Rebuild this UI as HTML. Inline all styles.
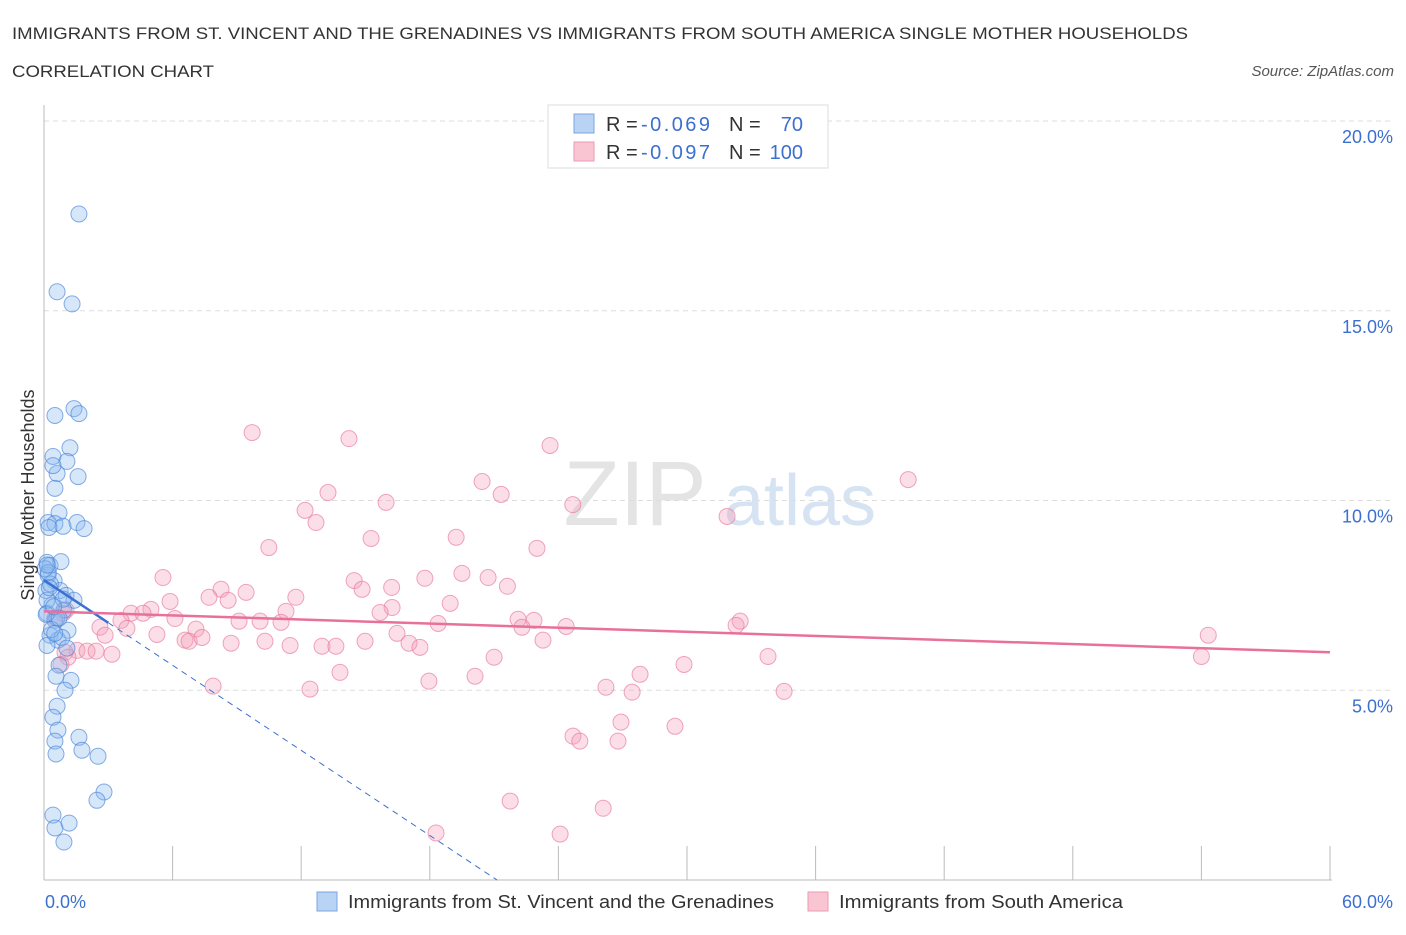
<!DOCTYPE html>
<html><head><meta charset="utf-8"><style>
body{margin:0;background:#fff;font-family:"Liberation Sans",sans-serif;}
svg text{font-family:"Liberation Sans",sans-serif;}
</style></head><body>
<svg id="chart" width="1406" height="930">
<text x="12" y="39" font-size="17" fill="#333" textLength="1176" lengthAdjust="spacingAndGlyphs">IMMIGRANTS FROM ST. VINCENT AND THE GRENADINES VS IMMIGRANTS FROM SOUTH AMERICA SINGLE MOTHER HOUSEHOLDS</text>
<text x="12" y="77" font-size="17" fill="#333" textLength="202" lengthAdjust="spacingAndGlyphs">CORRELATION CHART</text>
<text x="1394" y="76" font-size="15" fill="#555" font-style="italic" text-anchor="end">Source: ZipAtlas.com</text>
<text x="635" y="525" font-size="92" fill="#e4e4e4" font-family="Liberation Serif" text-anchor="middle">ZIP</text>
<text x="800" y="525" font-size="72" fill="#d5e3f2" text-anchor="middle">atlas</text>
<g id="grid"></g>
<g id="axes"></g>
<g id="pts"></g>
<g id="trend"></g>
<text x="34" y="495" font-size="18" fill="#333" transform="rotate(-90 34 495)" text-anchor="middle">Single Mother Households</text>
<g>
<rect x="548" y="105" width="280" height="63" fill="#fff" stroke="#ddd"/>
<rect x="574" y="114" width="20" height="19" fill="#b9d3f5" stroke="#7aa6e0"/>
<text x="606" y="131" font-size="20" fill="#333">R =</text>
<text x="641" y="131" font-size="20" fill="#3b6fd0" textLength="69">-0.069</text>
<text x="729" y="131" font-size="20" fill="#333">N =</text>
<text x="803" y="131" font-size="20" fill="#3b6fd0" text-anchor="end">70</text>
<rect x="574" y="142" width="20" height="19" fill="#f9c5d3" stroke="#ec9ab2"/>
<text x="606" y="159" font-size="20" fill="#333">R =</text>
<text x="641" y="159" font-size="20" fill="#3b6fd0" textLength="69">-0.097</text>
<text x="729" y="159" font-size="20" fill="#333">N =</text>
<text x="803" y="159" font-size="20" fill="#3b6fd0" text-anchor="end">100</text>
</g>
<g>
<rect x="317" y="892" width="20" height="19" fill="#b9d3f5" stroke="#7aa6e0"/>
<text x="348" y="908" font-size="18" fill="#333" textLength="426" lengthAdjust="spacingAndGlyphs">Immigrants from St. Vincent and the Grenadines</text>
<rect x="808" y="892" width="20" height="19" fill="#f9c5d3" stroke="#ec9ab2"/>
<text x="839" y="908" font-size="18" fill="#333" textLength="284" lengthAdjust="spacingAndGlyphs">Immigrants from South America</text>
</g>
</svg>
<script>
const yTicks=[5,10,15,20];
const yTickLabels=["5.0%","10.0%","15.0%","20.0%"];
const xTickLabels=["0.0%","60.0%"];
const blueX=[1.63,0.61,1.31,1.4,0.51,1.63,1.21,0.42,1.07,0.61,1.59,0.51,0.70,0.19,0.51,0.89,1.54,1.87,0.14,0.28,0.79,0.19,0.47,0.75,0.09,1.03,1.4,0.37,0.93,0.14,0.51,1.12,0.28,0.65,0.84,0.14,1.07,0.70,0.56,1.26,0.98,0.61,0.42,0.65,1.63,0.51,1.77,0.56,2.52,2.8,2.47,0.42,0.51,1.17,0.93,0.14,0.23,0.42,0.05,0.3,0.6,0.2,0.9,0.35,0.1,0.5,0.25,0.7,0.15,0.45];
const blueY=[17.55,15.5,15.18,12.42,12.24,12.29,11.39,11.16,11.03,10.71,10.63,10.32,9.68,9.42,9.39,9.32,9.42,9.26,8.37,8.29,8.39,8.03,7.89,7.63,7.63,7.5,7.37,7.24,7.11,7.03,6.84,6.58,6.45,6.32,6.39,6.18,6.11,5.66,5.37,5.26,5.0,4.58,4.29,3.95,3.76,3.66,3.42,3.32,3.26,2.32,2.1,1.71,1.37,1.5,1.0,7.37,9.29,10.92,8.2,7.8,6.9,8.1,7.4,6.6,7.0,6.5,7.7,6.9,8.3,7.2];
const pinkX=[9.71,14.23,23.61,40.32,20.44,13.25,21.33,15.96,24.67,12.18,12.69,31.87,19.23,15.26,10.49,23.0,5.55,19.5,20.72,14.47,17.77,8.26,9.43,14.84,16.22,21.62,7.7,11.75,8.59,5.88,18.95,16.24,4.99,11.29,4.06,4.62,15.68,6.11,9.1,10.08,11.06,22.12,22.86,3.59,32.48,32.29,18.39,24.36,22.3,3.87,2.61,0.89,1.03,7.09,16.47,2.85,5.27,54.32,6.58,6.77,7.37,8.73,10.31,11.48,12.97,13.62,14.98,17.03,17.54,23.28,1.54,2.01,2.43,3.17,0.98,1.12,0.79,21.0,33.78,54.0,29.86,13.81,27.81,20.11,7.89,17.96,26.22,27.44,12.41,34.53,26.92,29.44,24.68,25.0,26.78,21.75,26.09,18.29,24.08,0.5];
const pinkY=[11.79,11.63,11.45,10.55,10.5,10.21,10.16,9.95,9.89,9.74,9.42,9.58,9.03,9.0,8.76,8.74,7.97,8.08,7.97,7.89,7.95,7.66,7.58,7.66,7.71,7.74,7.45,7.45,7.37,7.34,7.29,7.18,7.13,7.08,7.03,7.03,7.05,6.89,6.82,6.82,6.79,6.87,6.84,6.84,6.82,6.71,6.76,6.68,6.66,6.63,6.66,7.03,7.11,6.61,6.5,6.45,6.47,6.45,6.32,6.29,6.39,6.24,6.29,6.18,6.16,6.16,6.29,6.24,6.13,6.32,6.05,6.03,6.03,5.95,6.0,5.87,5.68,5.87,5.89,5.89,5.68,5.47,5.42,5.37,5.11,5.24,5.08,4.95,5.03,4.97,4.16,4.05,3.79,3.66,3.66,2.08,1.89,1.24,1.21,6.9];
const blueTrend=[7.9,-0.3737];
const pinkTrend=[7.08,-0.018];
const NS="http://www.w3.org/2000/svg";
const X0=44,X1=1330,Y0=880,YT=121;
const xs=v=>X0+(v/60)*(X1-X0);
const ys=v=>Y0-(v/20)*(Y0-YT);
function mk(t,a,p){const e=document.createElementNS(NS,t);for(const k in a)e.setAttribute(k,a[k]);p.appendChild(e);return e;}
const grid=document.getElementById('grid'),axes=document.getElementById('axes');
yTicks.forEach((t,i)=>{
 const l=mk('line',{x1:X0,x2:1392,y1:ys(t),y2:ys(t),stroke:'#ddd','stroke-dasharray':'5,4'},grid);
 
 
 const tx=mk('text',{x:1393,y:ys(t)+22,'font-size':18,fill:'#3b6fd0','text-anchor':'end'},axes);
 tx.textContent=yTickLabels[i];
 
 
});
const yax=mk('line',{x1:X0,x2:X0,y1:105,y2:Y0,stroke:'#bbb'},axes);


const xax=mk('line',{x1:X0,x2:X1+2,y1:Y0,y2:Y0,stroke:'#bbb'},axes);


for(let i=0;i<=10;i++){const xv=i*6;const t=mk('line',{x1:xs(xv),x2:xs(xv),y1:Y0,y2:Y0-(i==0?0:34),stroke:'#bbb'},axes);
 
 }
[[0,45,'start'],[60,1393,'end']].forEach((d,i)=>{const t=mk('text',{x:d[1],y:908,'font-size':18,fill:'#3b6fd0','text-anchor':d[2]},axes);t.textContent=xTickLabels[i];
 
 });
const pts=document.getElementById('pts');
pinkX.forEach((x,i)=>{const c=mk('circle',{cx:xs(x),cy:ys(pinkY[i]),r:8,fill:'rgba(244,160,186,0.35)',stroke:'rgba(232,120,155,0.65)'},pts);
 
 });
blueX.forEach((x,i)=>{const c=mk('circle',{cx:xs(x),cy:ys(blueY[i]),r:8,fill:'rgba(140,185,240,0.35)',stroke:'rgba(70,130,215,0.65)'},pts);
 
 });
const tr=document.getElementById('trend');
const bz=-blueTrend[0]/blueTrend[1];
const l1=mk('line',{x1:xs(0),y1:ys(blueTrend[0]),x2:xs(3),y2:ys(blueTrend[0]+blueTrend[1]*3),stroke:'#3b6fd0','stroke-width':2.5},tr);


const l2=mk('line',{x1:xs(3),y1:ys(blueTrend[0]+blueTrend[1]*3),x2:xs(bz),y2:ys(0),stroke:'#3b6fd0','stroke-width':1,'stroke-dasharray':'6,5'},tr);


const l3=mk('line',{x1:xs(0),y1:ys(pinkTrend[0]),x2:xs(60),y2:ys(pinkTrend[0]+pinkTrend[1]*60),stroke:'#e8709a','stroke-width':2.5},tr);


</script>
</body></html>
